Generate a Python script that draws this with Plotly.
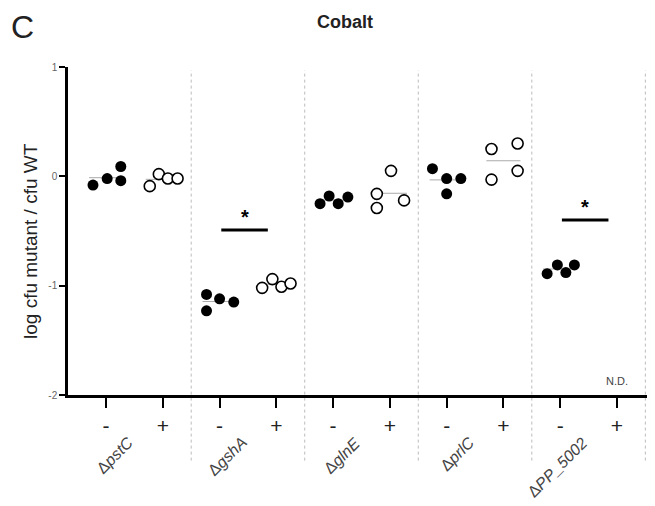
import plotly.graph_objects as go
import numpy as np

genes = ["pstC", "gshA", "glnE", "prlC", "PP_5002"]
tick_labels = ["-", "+"] * 5

pstC_minus = [-0.08, -0.02, 0.09, -0.04]
pstC_plus = [-0.09, 0.02, -0.02, -0.02]
gshA_minus = [-1.08, -1.23, -1.12, -1.15]
gshA_plus = [-1.02, -0.94, -1.01, -0.98]
glnE_minus = [-0.25, -0.18, -0.25, -0.19]
glnE_plus = [0.05, -0.16, -0.29, -0.22]
prlC_minus = [0.07, -0.02, -0.02, -0.16]
prlC_plus = [0.25, -0.03, 0.30, 0.05]
PP5002_minus = [-0.89, -0.81, -0.88, -0.81]
PP5002_plus = []  # N.D.

groups = [pstC_minus, pstC_plus, gshA_minus, gshA_plus, glnE_minus, glnE_plus,
          prlC_minus, prlC_plus, PP5002_minus, PP5002_plus]

# horizontal scatter offsets (layout only)
jitter = [
    [-0.23, 0.02, 0.26, 0.26],
    [-0.23, -0.07, 0.09, 0.26],
    [-0.23, -0.23, 0.0, 0.25],
    [-0.25, -0.07, 0.09, 0.25],
    [-0.23, -0.07, 0.09, 0.26],
    [0.02, -0.23, -0.23, 0.25],
    [-0.25, 0.0, 0.25, 0.0],
    [-0.21, -0.21, 0.25, 0.25],
    [-0.23, -0.05, 0.10, 0.25],
    [],
]

sig_groups = [1, 4]        # gene index with significance bar
sig_bar_y = [-0.49, -0.40]

fig = go.Figure()

for i, vals in enumerate(groups):
    if not vals:
        continue
    xs = [i + j for j in jitter[i]]
    filled = (i % 2 == 0)
    fig.add_trace(go.Scatter(
        x=xs, y=vals, mode="markers",
        marker=dict(size=11,
                    color="black" if filled else "white",
                    line=dict(color="black", width=0 if filled else 1.6)),
        showlegend=False, hoverinfo="skip"))
    m = float(np.mean(vals))
    fig.add_shape(type="line", x0=i - 0.3, x1=i + 0.3, y0=m, y1=m,
                  line=dict(color="#aaaaaa", width=1), layer="below")

# separators
for k in range(5):
    xs = 2 * k + 1.5
    fig.add_shape(type="line", x0=xs, x1=xs, yref="paper", y0=-0.2, y1=0.99,
                  line=dict(color="#bbbbbb", width=1, dash="dot"), layer="below")

# significance bars
for g, yb in zip(sig_groups, sig_bar_y):
    c = 2 * g
    fig.add_shape(type="line", x0=c + 0.03, x1=c + 0.85, y0=yb, y1=yb,
                  line=dict(color="black", width=3))
    fig.add_annotation(x=c + 0.44, y=yb, text="<b>*</b>", showarrow=False,
                       yanchor="bottom", yshift=0,
                       font=dict(size=20, color="black", family="Liberation Sans"))

fig.add_annotation(x=9, y=-2, text="N.D.", showarrow=False, yanchor="bottom",
                   yshift=6, font=dict(size=11, color="#444", family="Liberation Sans"))

# gene labels
for k, g in enumerate(genes):
    fig.add_annotation(x=2 * k + 0.58, y=-0.11, yref="paper",
                       text="Δ<i>" + g + "</i>", showarrow=False,
                       textangle=-45, xanchor="right", yanchor="top",
                       font=dict(size=16, color="#444", family="Liberation Sans"))

fig.add_annotation(xref="paper", yref="paper", x=(345 - 68) / 587, y=1 + (67 - 22) / 328,
                   xanchor="center", yanchor="middle",
                   text="<b>Cobalt</b>", showarrow=False,
                   font=dict(size=18, color="#222", family="Liberation Sans"))
fig.add_annotation(xref="paper", yref="paper", x=(22 - 68) / 587, y=1 + (67 - 27) / 328,
                   xanchor="center", yanchor="middle",
                   text="C", showarrow=False,
                   font=dict(size=32, color="#222", family="Liberation Sans"))
fig.add_annotation(xref="paper", yref="paper", x=(30 - 68) / 587, y=(395 - 241) / 328,
                   xanchor="center", yanchor="middle", textangle=-90,
                   text="log cfu mutant / cfu WT", showarrow=False,
                   font=dict(size=19, color="#222", family="Liberation Sans"))

fig.update_layout(
    width=647, height=498,
    margin=dict(l=60, r=0, t=59, b=111),
    plot_bgcolor="white", paper_bgcolor="white",
    font=dict(family="Liberation Sans", color="#222"),
    xaxis=dict(range=[-0.67, 9.67], tickmode="array", tickvals=list(range(10)),
               ticktext=tick_labels, ticks="outside", ticklen=10, tickwidth=2,
               tickcolor="black", showline=True, linecolor="black", linewidth=2.5,
               showgrid=False, zeroline=False,
               tickfont=dict(size=21, color="#222")),
    yaxis=dict(range=[-2, 1], tickvals=[-2, -1, 0, 1], ticktext=["-2", "-1", "0", "1"],
               ticks="outside", ticklen=6, tickwidth=2, tickcolor="black",
               showline=True, linecolor="black", linewidth=2.5,
               showgrid=False, zeroline=False,
               tickfont=dict(size=10, color="#666")),
)

fig.write_html("out.html")
